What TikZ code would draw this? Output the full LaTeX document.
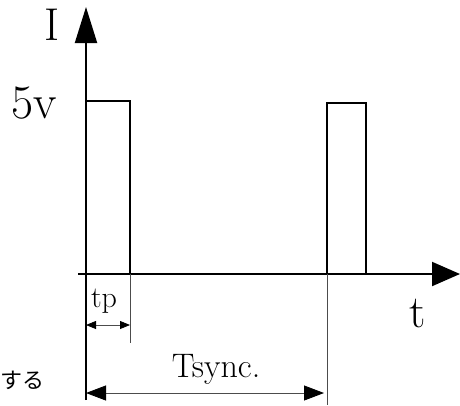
\documentclass[tikz,border=0pt]{standalone}
\usepackage{fontspec}
\newfontfamily\jpfont{Noto Sans CJK JP}
\usetikzlibrary{arrows.meta}
\begin{document}
\begin{tikzpicture}[x=1pt,y=-1pt,
  axis/.style={line width=2pt,black},
  pulse/.style={line width=2pt,black},
  guide/.style={line width=0.8pt,black!70},
  lbl/.style={inner sep=0pt,anchor=base},
  bigtip/.style={-{Triangle[length=36pt,width=22pt]}},
  xtip/.style={-{Triangle[length=28pt,width=24pt]}},
  dimtip/.style={{Triangle[length=20pt,width=15pt,color=black]}-{Triangle[length=20pt,width=15pt,color=black]}},
  smalltip/.style={{Triangle[length=10pt,width=8pt,color=black]}-{Triangle[length=10pt,width=8pt,color=black]}}]
\useasboundingbox (0,0) rectangle (460,405);
% coordinates
\coordinate (ybot) at (86,400);
\coordinate (ytop) at (86,7);
\coordinate (xl) at (78,274);
\coordinate (xr) at (460,274);
\coordinate (p1a) at (86,274);
\coordinate (p1b) at (86,101);
\coordinate (p1c) at (130,101);
\coordinate (p1d) at (130,274);
\coordinate (p2a) at (327,274);
\coordinate (p2b) at (327,103);
\coordinate (p2c) at (366,103);
\coordinate (p2d) at (366,274);
\coordinate (g1) at (130,343);
\coordinate (g2) at (327,405);
\coordinate (tpl) at (86,325);
\coordinate (tpr) at (130,325);
\coordinate (tsl) at (86,393);
\coordinate (tsr) at (324,393);
% axes
\draw[axis,bigtip] (ybot) -- (ytop);
\draw[axis,xtip] (xl) -- (xr);
% pulses
\draw[pulse] (p1a) -- (p1b) -- (p1c) -- (p1d);
\draw[pulse] (p2a) -- (p2b) -- (p2c) -- (p2d);
% guides
\draw[guide] (p1d) -- (g1);
\draw[guide] (p2a) -- (g2);
% dimensions
\draw[guide,smalltip] (tpl) -- (tpr);
\draw[guide,dimtip] (tsl) -- (tsr);
% labels
\node[lbl,font=\fontsize{46}{46}\selectfont] (lI) at (52,40) {I};
\node[lbl,font=\fontsize{48}{48}\selectfont] (l5v) at (34,118) {5v};
\node[lbl,font=\fontsize{46}{46}\selectfont] (lt) at (418,327) {t};
\node[lbl,font=\fontsize{30}{30}\selectfont] (ltp) at (104,307) {tp};
\node[lbl,font=\fontsize{34}{34}\selectfont] (lts) at (216,377) {Tsync.};
\node[inner sep=0pt,font=\jpfont\fontsize{22}{22}\selectfont] (lj) at (23,380) {する};
\end{tikzpicture}
\end{document}
